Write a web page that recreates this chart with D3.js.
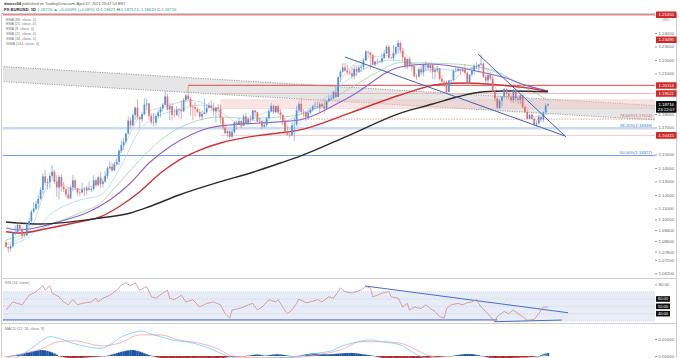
<!DOCTYPE html>
<html><head><meta charset="utf-8">
<script src="https://cdn.jsdelivr.net/npm/d3@7/dist/d3.min.js"></script>
<style>
html,body{margin:0;padding:0;background:#fff;}
svg{display:block;font-family:"Liberation Sans",Arial,sans-serif;}
</style></head><body>
<svg id="c" width="680" height="358"></svg>
<script>
// ---------- DATA (EUR/USD daily, 13 May 2020 -> 7 Apr 2021) ----------
const openP=[1.0849,1.0816,1.0804,1.0819,1.0919,1.0923,1.0978,1.0950,1.0901,1.0900,1.0979,1.1007,1.1077,
1.1099,1.1135,1.1172,1.1237,1.1338,1.1291,1.1295,1.1341,1.1373,1.1299,1.1256,1.1333,1.1262,1.1243,1.1204,1.1176,1.1256,1.1308,1.1251,1.1220,1.1219,1.1240,
1.1234,1.1250,1.1238,1.1245,1.1309,1.1273,1.1330,1.1282,1.1300,1.1342,1.1398,1.1410,1.1382,1.1427,1.1445,1.1527,1.1570,1.1595,1.1655,1.1751,1.1717,1.1791,1.1847,
1.1778,1.1761,1.1800,1.1870,1.1878,1.1786,1.1738,1.1738,1.1785,1.1812,1.1840,1.1869,1.1930,1.1833,1.1858,1.1794,1.1793,1.1833,1.1830,1.1820,1.1904,
1.1937,1.1912,1.1854,1.1852,1.1837,1.1814,1.1780,1.1800,1.1812,1.1846,1.1863,1.1846,1.1820,1.1849,1.1838,1.1771,1.1700,1.1658,1.1673,1.1631,1.1666,1.1737,
1.1721,1.1747,1.1715,1.1782,1.1734,1.1762,1.1758,1.1826,1.1813,1.1744,1.1747,1.1706,1.1718,1.1768,1.1819,1.1861,1.1814,1.1858,1.1811,1.1794,1.1746,1.1673,
1.1647,1.1641,1.1716,1.1721,1.1827,1.1875,1.1815,1.1813,1.1776,1.1809,1.1833,1.1855,1.1857,1.1850,1.1873,1.1857,1.1841,1.1896,1.1914,1.1917,1.1962,
1.1927,1.2072,1.2114,1.2145,1.2120,1.2107,1.2102,1.2080,1.2134,1.2113,1.2144,1.2151,1.2197,1.2262,1.2256,1.2237,1.2166,1.2188,1.2187,1.2188,1.2214,1.2249,1.2298,
1.2217,1.2214,1.2251,1.2297,1.2326,1.2270,1.2219,1.2153,1.2207,1.2155,1.2157,1.2081,1.2077,1.2131,1.2107,1.2167,1.2170,1.2141,1.2163,1.2112,1.2125,
1.2136,1.2060,1.2040,1.2037,1.1963,1.2049,1.2050,1.2119,1.2120,1.2133,1.2119,1.2129,1.2105,1.2037,1.2092,1.2120,1.2156,1.2153,1.2166,1.2174,
1.2075,1.2048,1.2090,1.2063,1.1967,1.1915,1.1846,1.1899,1.1929,1.1986,1.1952,1.1929,1.1902,1.1981,1.1915,1.1904,1.1939,1.1851,1.1813,1.1764,1.1794,1.1764,1.1721,
1.1730,1.1778,1.1760,1.1812,1.18621];
const highP=[1.0867,1.0818,1.0832,1.0926,1.0976,1.0995,1.1008,1.0961,1.0913,1.0996,1.1030,1.1092,1.1147,
1.1154,1.1198,1.1257,1.1361,1.1384,1.1323,1.1363,1.1422,1.1385,1.1347,1.1347,1.1356,1.1298,1.1256,1.1257,1.1270,1.1349,1.1320,1.1254,1.1249,1.1289,1.1260,
1.1268,1.1302,1.1264,1.1346,1.1325,1.1345,1.1371,1.1318,1.1375,1.1411,1.1452,1.1434,1.1443,1.1468,1.1540,1.1601,1.1626,1.1660,1.1781,1.1776,1.1805,1.1857,1.1908,
1.1780,1.1814,1.1916,1.1916,1.1884,1.1806,1.1807,1.1800,1.1831,1.1853,1.1883,1.1966,1.1951,1.1883,1.1883,1.1840,1.1858,1.1845,1.1900,1.1917,1.1945,
1.2011,1.1925,1.1869,1.1888,1.1849,1.1840,1.1825,1.1917,1.1872,1.1886,1.1901,1.1882,1.1851,1.1872,1.1871,1.1781,1.1718,1.1688,1.1682,1.1683,1.1745,1.1754,
1.1772,1.1753,1.1797,1.1809,1.1776,1.1789,1.1831,1.1829,1.1820,1.1772,1.1751,1.1733,1.1780,1.1841,1.1881,1.1868,1.1860,1.1871,1.1836,1.1797,1.1770,1.1707,
1.1670,1.1741,1.1770,1.1860,1.1891,1.1920,1.1836,1.1820,1.1829,1.1841,1.1869,1.1893,1.1893,1.1888,1.1891,1.1905,1.1898,1.1939,1.1941,1.1971,1.2003,
1.2077,1.2124,1.2176,1.2177,1.2167,1.2128,1.2147,1.2161,1.2161,1.2162,1.2167,1.2212,1.2273,1.2268,1.2258,1.2244,1.2194,1.2212,1.2195,1.2250,1.2276,1.2310,1.2310,
1.2225,1.2310,1.2302,1.2349,1.2338,1.2289,1.2230,1.2213,1.2222,1.2177,1.2163,1.2097,1.2145,1.2155,1.2172,1.2189,1.2174,1.2170,1.2170,1.2140,1.2156,
1.2140,1.2087,1.2050,1.2047,1.2051,1.2055,1.2128,1.2150,1.2150,1.2136,1.2145,1.2169,1.2112,1.2093,1.2145,1.2169,1.2180,1.2172,1.2243,1.2182,
1.2094,1.2093,1.2113,1.2086,1.1976,1.1933,1.1909,1.1930,1.1990,1.1990,1.1963,1.1951,1.1985,1.1989,1.1942,1.1942,1.1944,1.1859,1.1828,1.1799,1.1797,1.1770,1.1752,
1.1795,1.1787,1.1820,1.1878,1.18752];
const lowP=[1.0807,1.0775,1.0785,1.0810,1.0902,1.0918,1.0942,1.0871,1.0885,1.0895,1.0951,1.0988,1.1068,
1.1087,1.1100,1.1165,1.1207,1.1270,1.1241,1.1250,1.1320,1.1280,1.1186,1.1168,1.1224,1.1222,1.1183,1.1168,1.1170,1.1230,1.1240,1.1198,1.1190,1.1210,1.1192,
1.1200,1.1231,1.1222,1.1234,1.1260,1.1268,1.1253,1.1256,1.1290,1.1318,1.1392,1.1372,1.1380,1.1419,1.1422,1.1512,1.1535,1.1582,1.1650,1.1691,1.1710,1.1753,1.1762,
1.1696,1.1741,1.1790,1.1826,1.1754,1.1724,1.1711,1.1713,1.1765,1.1775,1.1820,1.1863,1.1827,1.1754,1.1753,1.1773,1.1783,1.1771,1.1763,1.1815,1.1890,
1.1903,1.1789,1.1753,1.1781,1.1807,1.1765,1.1753,1.1800,1.1802,1.1838,1.1822,1.1787,1.1737,1.1819,1.1729,1.1682,1.1651,1.1627,1.1612,1.1625,1.1654,1.1685,
1.1720,1.1696,1.1708,1.1733,1.1725,1.1734,1.1752,1.1785,1.1737,1.1730,1.1688,1.1698,1.1703,1.1762,1.1812,1.1803,1.1808,1.1803,1.1760,1.1716,1.1650,1.1640,
1.1622,1.1640,1.1603,1.1710,1.1805,1.1800,1.1780,1.1745,1.1758,1.1797,1.1818,1.1838,1.1846,1.1812,1.1845,1.1802,1.1830,1.1889,1.1900,1.1910,1.1922,
1.1924,1.2040,1.2106,1.2115,1.2087,1.2088,1.2060,1.2057,1.2080,1.2105,1.2111,1.2127,1.2191,1.2222,1.2130,1.2160,1.2155,1.2162,1.2182,1.2177,1.2208,1.2242,1.2211,
1.2210,1.2193,1.2234,1.2256,1.2248,1.2192,1.2133,1.2132,1.2148,1.2116,1.2071,1.2054,1.2070,1.2085,1.2080,1.2117,1.2117,1.2105,1.2059,1.2057,1.2110,
1.2047,1.2011,1.2002,1.1952,1.1960,1.2011,1.2045,1.2107,1.2112,1.2092,1.2111,1.2087,1.2023,1.2023,1.2079,1.2092,1.2133,1.2109,1.2160,1.2065,
1.2021,1.2024,1.2049,1.1963,1.1893,1.1836,1.1835,1.1854,1.1915,1.1910,1.1909,1.1884,1.1883,1.1890,1.1874,1.1874,1.1843,1.1810,1.1761,1.1762,1.1760,1.1712,1.1704,
1.1727,1.1740,1.1740,1.1805,1.18620];
const closeP=[1.0816,1.0804,1.0819,1.0919,1.0923,1.0978,1.0950,1.0901,1.0900,1.0979,1.1007,1.1077,1.1099,
1.1135,1.1172,1.1237,1.1338,1.1291,1.1295,1.1341,1.1373,1.1299,1.1256,1.1333,1.1262,1.1243,1.1204,1.1176,1.1256,1.1308,1.1251,1.1220,1.1219,1.1240,1.1234,
1.1250,1.1238,1.1245,1.1309,1.1273,1.1330,1.1282,1.1300,1.1342,1.1398,1.1410,1.1382,1.1427,1.1445,1.1527,1.1570,1.1595,1.1655,1.1751,1.1717,1.1791,1.1847,1.1778,
1.1761,1.1800,1.1870,1.1878,1.1786,1.1738,1.1738,1.1785,1.1812,1.1840,1.1869,1.1930,1.1833,1.1858,1.1794,1.1793,1.1833,1.1830,1.1820,1.1904,1.1937,
1.1912,1.1854,1.1852,1.1837,1.1814,1.1780,1.1800,1.1812,1.1846,1.1863,1.1846,1.1820,1.1849,1.1838,1.1771,1.1700,1.1658,1.1673,1.1631,1.1666,1.1737,1.1721,
1.1747,1.1715,1.1782,1.1734,1.1762,1.1758,1.1826,1.1813,1.1744,1.1747,1.1706,1.1718,1.1768,1.1819,1.1861,1.1814,1.1858,1.1811,1.1794,1.1746,1.1673,1.1647,
1.1641,1.1716,1.1721,1.1827,1.1875,1.1815,1.1813,1.1776,1.1809,1.1833,1.1855,1.1857,1.1850,1.1873,1.1857,1.1841,1.1896,1.1914,1.1917,1.1962,1.1927,
1.2072,1.2114,1.2145,1.2120,1.2107,1.2102,1.2080,1.2134,1.2113,1.2144,1.2151,1.2197,1.2262,1.2256,1.2237,1.2166,1.2188,1.2187,1.2188,1.2214,1.2249,1.2298,1.2217,
1.2214,1.2251,1.2297,1.2326,1.2270,1.2219,1.2153,1.2207,1.2155,1.2157,1.2081,1.2077,1.2131,1.2107,1.2167,1.2170,1.2141,1.2163,1.2112,1.2125,1.2136,
1.2060,1.2040,1.2037,1.1963,1.2049,1.2050,1.2119,1.2120,1.2133,1.2119,1.2129,1.2105,1.2037,1.2092,1.2120,1.2156,1.2153,1.2166,1.2174,1.2075,
1.2048,1.2090,1.2063,1.1967,1.1915,1.1846,1.1899,1.1929,1.1986,1.1952,1.1929,1.1902,1.1981,1.1915,1.1904,1.1939,1.1851,1.1813,1.1764,1.1794,1.1764,1.1721,1.1730,
1.1778,1.1760,1.1812,1.1862,1.18716];

// moving averages: [bar index, price]
const wma144=[[0,1.1000],[15,1.0985],[41,1.1030],[54,1.1067],[62,1.1113],[75,1.1200],[93,1.1299],[106,1.1363],[119,1.1437],[127,1.1484],[149,1.1644],[171,1.1807],[185,1.1874],[196,1.1928],[207,1.1965],[217,1.1970],[235,1.1965]];
const ema89=[[0,1.0928],[6,1.0919],[19,1.0956],[32,1.1002],[41,1.1039],[49,1.1113],[58,1.1224],[67,1.1363],[75,1.1459],[84,1.1533],[93,1.1585],[106,1.1632],[119,1.1661],[127,1.1681],[149,1.1807],[171,1.1941],[188,1.2020],[200,1.2030],[214,1.2015],[225,1.1995],[235,1.1968]];
const sma34=[[0,1.0956],[6,1.0941],[15,1.0965],[23,1.1002],[36,1.1076],[45,1.1163],[54,1.1289],[62,1.1437],[71,1.1558],[80,1.1644],[88,1.1696],[97,1.1719],[110,1.1733],[119,1.1743],[127,1.1756],[149,1.1926],[171,1.2148],[184,1.2170],[206,1.2111],[216,1.2070],[226,1.2010],[235,1.1970]];
const sma21=[[0,1.0867],[10,1.0919],[19,1.0978],[32,1.1067],[41,1.1141],[49,1.1289],[58,1.1459],[67,1.1607],[75,1.1696],[84,1.1756],[93,1.1778],[101,1.1770],[110,1.1770],[119,1.1778],[127,1.1793],[149,1.1990],[160,1.2100],[171,1.2180],[188,1.2175],[201,1.2160],[214,1.2100],[227,1.1978],[235,1.1904]];
const ema21=[[0,1.0830],[10,1.0889],[19,1.1052],[32,1.1163],[41,1.1200],[49,1.1385],[58,1.1681],[67,1.1793],[75,1.1830],[84,1.1867],[93,1.1815],[101,1.1733],[110,1.1756],[119,1.1741],[127,1.1793],[140,1.1941],[153,1.2111],[167,1.2200],[180,1.2163],[193,1.2126],[206,1.2141],[219,1.2052],[227,1.1904],[235,1.1815]];
const ema8=[[0,1.0840],[10,1.0930],[20,1.1310],[30,1.1240],[40,1.1290],[50,1.1520],[58,1.1780],[70,1.1860],[80,1.1900],[90,1.1840],[98,1.1680],[108,1.1780],[118,1.1830],[124,1.1670],[130,1.1800],[140,1.1890],[147,1.2100],[158,1.2220],[168,1.2240],[172,1.2260],[178,1.2120],[186,1.2130],[191,1.2010],[198,1.2110],[206,1.2160],[211,1.2050],[215,1.1900],[222,1.1930],[229,1.1780],[235,1.1800]];

// oscillators: [bar index, value]
const rsi14=[[0,45],[3,56],[5,54],[7,52],[10,65],[13,70],[16,78],[17,72],[19,78],[20,68],[23,63],[25,56],[27,52],[29,59],[31,52],[33,54],[35,55],[37,56],[39,61],[40,56],[42,61],[45,65],[48,72],[50,79],[52,82],[54,78],[56,82],[58,72],[61,77],[63,63],[65,61],[68,68],[70,72],[71,61],[73,59],[76,65],[78,56],[81,59],[84,49],[87,54],[90,56],[93,52],[95,40],[97,34],[98,45],[101,47],[103,49],[105,52],[107,54],[109,45],[111,49],[114,59],[117,56],[118,59],[120,49],[122,40],[124,45],[126,54],[127,60],[130,55],[132,56],[135,59],[137,56],[140,63],[142,61],[144,70],[145,75],[147,70],[150,68],[152,70],[154,72],[156,77],[158,75],[159,63],[161,65],[163,68],[166,70],[167,63],[170,61],[172,49],[174,54],[175,45],[177,49],[180,47],[182,52],[184,47],[186,43],[188,36],[190,34],[191,47],[193,52],[196,54],[198,52],[200,55],[202,56],[204,59],[206,49],[208,43],[210,36],[212,29],[213,36],[216,43],[218,40],[220,45],[222,40],[224,36],[226,31],[229,32],[231,40],[233,49],[235,49]];
const macdLine=[[0,-0.0020],[6,0.0000],[10,0.0035],[15,0.0084],[19,0.0114],[23,0.0104],[29,0.0075],[35,0.0055],[41,0.0045],[45,0.0065],[49,0.0104],[55,0.0137],[59,0.0147],[62,0.0133],[67,0.0114],[72,0.0094],[78,0.0084],[84,0.0065],[90,0.0035],[96,0.0000],[105,-0.0015],[120,-0.0010],[135,0.0016],[142,0.0035],[145,0.0055],[150,0.0075],[158,0.0094],[163,0.0084],[171,0.0065],[176,0.0025],[181,-0.0008],[195,-0.0030],[210,-0.0025],[225,-0.0030],[232,0.0000],[235,0.0006]];
const signalLine=[[0,-0.0015],[2,-0.0005],[15,0.0040],[23,0.0085],[30,0.0090],[41,0.0060],[49,0.0075],[58,0.0124],[67,0.0124],[75,0.0094],[84,0.0075],[93,0.0035],[98,0.0000],[110,-0.0010],[125,-0.0008],[139,0.0016],[145,0.0035],[154,0.0084],[162,0.0084],[171,0.0075],[178,0.0035],[184,0.0000],[200,-0.0025],[215,-0.0020],[230,-0.0030],[235,-0.0012]];
// histogram, in units of 0.0001
const macdHist=[-2,-1,
1,3,5,8,11,14,17,20,23,26,29,31,33,35,35,33,30,26,21,15,8,
-1,-4,-7,-10,-13,-15,-16,-16,-15,-14,-12,-10,-9,-8,-7,-6,-5,-4,-3,-2,-1,
2,5,9,13,17,21,25,28,31,33,35,35,33,30,26,21,16,11,6,2,
-3,-6,-9,-12,-14,-16,-17,-18,-18,-18,-17,-16,-15,-14,-14,-13,-13,-12,-12,-11,-11,-11,-12,-13,-14,-15,-16,-16,-15,-14,-12,-10,-8,-7,-6,-5,-4,-3,-2,-2,-1,
2,4,6,8,9,8,5,2,3,5,7,9,10,10,9,7,5,3,1,-1,-2,-1,
1,4,7,10,12,14,15,15,14,13,12,11,10,10,11,12,13,14,15,16,17,18,18,18,17,16,14,12,10,8,6,4,2,
-2,-5,-8,-11,-14,-17,-19,-21,-22,-23,-23,-22,-21,-20,-19,-18,-17,-16,-15,-14,-13,-12,-11,-10,-9,-8,-7,-6,-5,-4,-3,-2,-1,-1,
2,4,6,8,10,11,12,12,11,9,7,4,1,
-2,-5,-8,-11,-13,-15,-16,-17,-17,-16,-15,-14,-13,-12,-11,-10,-9,-9,-9,-8,-7,-6,-5,-3,-1,
5,10,14,17];

// axis ticks
const priceTicks=[1.24,1.23,1.22,1.21,1.18,1.17,1.15,1.14,1.13,1.12,1.11,1.102,1.094,1.086,1.078,1.072,1.062];
const rsiTicks=[80];
const macdTicks=[0.01,0];
// horizontal levels
const levelPrices=[1.2535,1.20114,1.19521,1.16415];
const levelStart=[-3,79,93,93];
const zonePrices=[1.1840,1.1905];
const fibNames=['78.60%','38.20%','50.00%'];
const fibPrices=[1.17624,1.16949,1.14927];
const fibStart=[125,-3,-3];
// drawn trend lines: [bar index, price]
const channelTop=[[-3,1.2153],[282,1.1862]];
const channelBottom=[[-3,1.2042],[282,1.1756]];
const wedgeLower=[[147,1.2222],[242.4,1.1637]];
const wedgeUpper=[[204.7,1.2244],[242.8,1.1630]];
const rsiDown=[[155.7,77.7],[243.7,41.3]];
const rsiFloor=[[-3,31.5],[213,31.5]];
const rsiFloor2=[[211.6,29],[241,31.3]];
const rsiLevels=[60,50,40];
const legendItems=['EMA (89, close, 0)','EMA (21, close, 0)','EMA (8, close, 0)','SMA (21, close, 0)','SMA (34, close, 0)','WMA (144, close, 0)'];

// ---------- DRAWING ----------
const svg=d3.select('#c');
const L=3,R=655;
const x=d3.scaleLinear().domain([0,235]).range([6,548]);
const y=d3.scaleLinear().domain([1.13,1.24]).range([181.5,33]);
const yR=d3.scaleLinear().domain([30,80]).range([321,284.3]);
const yM=d3.scaleLinear().domain([0,0.01]).range([356,339]);
const f5=d3.format('.5f');

const defs=svg.append('defs');
[['cm',14,278],['cr',278,323],['cmacd',323,358]].forEach(([id,t,b])=>{
  defs.append('clipPath').attr('id',id).append('rect').attr('x',L).attr('y',t).attr('width',R-L).attr('height',b-t);
});

// frame
svg.append('rect').attr('x',1.5).attr('y',13.5).attr('width',675).attr('height',350).attr('fill','none').attr('stroke','#cfcfcf');
svg.append('line').attr('x1',1.5).attr('x2',676.5).attr('y1',278.5).attr('y2',278.5).attr('stroke','#cfcfcf');
svg.append('line').attr('x1',1.5).attr('x2',676.5).attr('y1',323.5).attr('y2',323.5).attr('stroke','#cfcfcf');

const gm=svg.append('g').attr('clip-path','url(#cm)');

// channel
const chArea=d3.area().x(d=>x(d[0])).y0((d,i)=>y(channelBottom[i][1])).y1(d=>y(d[1]));
gm.append('path').datum(channelTop).attr('d',chArea).attr('fill','#e2e2e2').attr('opacity',0.85);
const tl=d3.line().x(d=>x(d[0])).y(d=>y(d[1]));
[channelTop,channelBottom].forEach(c=>gm.append('path').datum(c).attr('d',tl).attr('fill','none').attr('stroke','#888').attr('stroke-width',0.8).attr('stroke-dasharray','1.2,1.2'));

// zone
gm.append('rect').attr('x',x(levelStart[2])).attr('width',R-x(levelStart[2])).attr('y',y(zonePrices[1])).attr('height',y(zonePrices[0])-y(zonePrices[1])).attr('fill','#f4c6c6').attr('opacity',0.45);
zonePrices.forEach(p=>gm.append('line').attr('x1',x(levelStart[2])).attr('x2',R).attr('y1',y(p)).attr('y2',y(p)).attr('stroke','#eaa').attr('stroke-width',0.6).attr('stroke-dasharray','1,1'));

// fib levels
const fibStyle=[{c:'#e08a8a',w:0.8,d:'1.5,1.2'},{c:'#c9daf2',w:2.6,d:null},{c:'#7c9ee2',w:1,d:null}];
const fibText=['#d46a6a','#4a72c4','#4a72c4'];
fibPrices.forEach((p,i)=>{
  const s=fibStyle[i];
  const ln=gm.append('line').attr('x1',x(fibStart[i])).attr('x2',R).attr('y1',y(p)).attr('y2',y(p)).attr('stroke',s.c).attr('stroke-width',s.w);
  if(s.d) ln.attr('stroke-dasharray',s.d);
  gm.append('text').attr('x',R-3).attr('y',y(p)-1.6).attr('text-anchor','end').attr('font-size',4.2).attr('fill',fibText[i]).text(fibNames[i]+'('+f5(p)+')');
});

// horizontal levels
const lvStyle=[{c:'#e28a8a',w:1.4},{c:'#e06a6a',w:1.3},{c:'#f0b0b0',w:0.9},{c:'#f2c4c4',w:0.9}];
levelPrices.forEach((p,i)=>{
  gm.append('line').attr('x1',x(levelStart[i])).attr('x2',R).attr('y1',y(p)).attr('y2',y(p)).attr('stroke',lvStyle[i].c).attr('stroke-width',lvStyle[i].w);
});

// moving averages
const mal=d3.line().x(d=>x(d[0])).y(d=>y(d[1])).curve(d3.curveMonotoneX);
const maStyle=[[ema8,'#cfcfcf',0.8],[ema21,'#a9dcef',0.8],[sma21,'#9fd0a8',0.8],[sma34,'#8a63cc',1.1],[ema89,'#cc3333',1.4],[wma144,'#2b2b2b',1.4]];
maStyle.forEach(([d,c,w])=>gm.append('path').datum(d).attr('d',mal).attr('fill','none').attr('stroke',c).attr('stroke-width',w));

// candles
const bull='#4f93dc',bear='#e46e6e';
const idx=d3.range(closeP.length);
gm.selectAll('.wk').data(idx).join('line')
  .attr('x1',i=>x(i)).attr('x2',i=>x(i)).attr('y1',i=>y(highP[i])).attr('y2',i=>y(lowP[i]))
  .attr('stroke',i=>closeP[i]>=openP[i]?bull:bear).attr('stroke-width',0.6);
gm.selectAll('.bd').data(idx).join('rect')
  .attr('x',i=>x(i)-0.85).attr('width',1.7)
  .attr('y',i=>y(Math.max(openP[i],closeP[i])))
  .attr('height',i=>Math.max(0.5,Math.abs(y(openP[i])-y(closeP[i]))))
  .attr('fill',i=>closeP[i]>=openP[i]?bull:bear);

// wedge lines
[wedgeLower,wedgeUpper].forEach(w=>gm.append('path').datum(w).attr('d',tl).attr('fill','none').attr('stroke','#3d63b8').attr('stroke-width',1));

// price axis
const ax=svg.append('g').attr('transform',`translate(${R},0)`).call(d3.axisRight(y).tickValues(priceTicks).tickFormat(f5).tickSize(2).tickPadding(1.5));
ax.select('.domain').remove();
ax.selectAll('text').attr('font-size',4.3).attr('fill','#666');
ax.selectAll('line').attr('stroke','#999');

function tag(yy,lines,bg){
  const h=lines.length*5+1.6;
  svg.append('rect').attr('x',R+1).attr('y',yy-3.3).attr('width',20.5).attr('height',h).attr('fill',bg).attr('rx',0.6);
  lines.forEach((t,k)=>svg.append('text').attr('x',R+11.2).attr('y',yy+1.5+k*5).attr('text-anchor','middle').attr('font-size',4.3).attr('fill','#fff').text(t));
}
levelPrices.forEach(p=>tag(y(p),[f5(p)],'#cf2a2a'));
tag(y(1.23495),[f5(1.23495)],'#cf2a2a');
tag(y(closeP[235]),[f5(closeP[235]),'23:12:07'],'#111');
svg.append('text').attr('x',R+11).attr('y',21).attr('text-anchor','middle').attr('font-size',3.6).attr('fill','#888').text('USD');

// header
svg.append('text').attr('x',4).attr('y',5.2).attr('font-size',3.9).attr('fill','#555')
  .html('<tspan font-weight="bold" fill="#333">dmoss94</tspan> published on TradingView.com, April 07, 2021 23:47:53 BST');
const h2=svg.append('text').attr('x',4).attr('y',11).attr('font-size',4.2).attr('fill','#333');
const tc='#1f9e8f';
[['FX:EURUSD, 1D ','#222','bold'],['1.18716 ',tc],['\u25B2 ',tc],['+0.00095 (+0.08%) ',tc],['O:','#333'],['1.18621 ',tc],['H:','#333'],['1.18752 ',tc],['L:','#333'],['1.18620 ',tc],['C:','#333'],['1.18716',tc]]
  .forEach(([t,c,w])=>h2.append('tspan').attr('fill',c).attr('font-weight',w||'normal').text(t));

// legend
legendItems.forEach((t,i)=>svg.append('text').attr('x',6).attr('y',20.5+i*4.85).attr('font-size',3.7).attr('fill','#777').text(t));

// ---------- RSI ----------
const gr=svg.append('g').attr('clip-path','url(#cr)');
gr.append('rect').attr('x',L).attr('width',R-L).attr('y',yR(70)).attr('height',yR(30)-yR(70)).attr('fill','#e7ecf7');
[70,60,50,40,30].forEach(v=>gr.append('line').attr('x1',L).attr('x2',R).attr('y1',yR(v)).attr('y2',yR(v)).attr('stroke','#b8c0d4').attr('stroke-width',0.5).attr('stroke-dasharray','1,1'));
const rl=d3.line().x(d=>x(d[0])).y(d=>yR(d[1]));
[rsiFloor,rsiFloor2,rsiDown].forEach(d=>gr.append('path').datum(d).attr('d',rl).attr('fill','none').attr('stroke','#4a6cc0').attr('stroke-width',1));
gr.append('path').datum(rsi14).attr('d',rl).attr('fill','none').attr('stroke','#c98080').attr('stroke-width',0.7);
svg.append('text').attr('x',5).attr('y',284).attr('font-size',3.7).attr('fill','#777').text('RSI (14, close)');
const ar=svg.append('g').attr('transform',`translate(${R},0)`).call(d3.axisRight(yR).tickValues(rsiTicks).tickFormat(d3.format('.2f')).tickSize(2).tickPadding(1.5));
ar.select('.domain').remove();ar.selectAll('text').attr('font-size',4.3).attr('fill','#666');ar.selectAll('line').attr('stroke','#999');
rsiLevels.forEach(v=>{
  svg.append('rect').attr('x',R+1).attr('y',yR(v)-2.8).attr('width',14).attr('height',5.6).attr('fill','#111');
  svg.append('text').attr('x',R+8).attr('y',yR(v)+1.5).attr('text-anchor','middle').attr('font-size',4.1).attr('fill','#fff').text(d3.format('.2f')(v));
});

// ---------- MACD ----------
const gmc=svg.append('g').attr('clip-path','url(#cmacd)');
gmc.selectAll('.hb').data(macdHist).join('rect')
  .attr('x',(d,i)=>x(i)-1.2).attr('width',2.4)
  .attr('y',d=>d>=0?yM(d/10000):yM(0))
  .attr('height',d=>Math.max(0.4,Math.abs(yM(d/10000)-yM(0))))
  .attr('fill',d=>d>=0?'#1d55a6':'#a82c2c');
const ml=d3.line().x(d=>x(d[0])).y(d=>yM(d[1])).curve(d3.curveMonotoneX);
gmc.append('path').datum(signalLine).attr('d',ml).attr('fill','none').attr('stroke','#f3a3a3').attr('stroke-width',0.8);
gmc.append('path').datum(macdLine).attr('d',ml).attr('fill','none').attr('stroke','#78c8f2').attr('stroke-width',0.8);
svg.append('text').attr('x',5).attr('y',330).attr('font-size',3.7).attr('fill','#777').text('MACD (12, 26, close, 9)');
const am=svg.append('g').attr('transform',`translate(${R},0)`).call(d3.axisRight(yM).tickValues(macdTicks).tickFormat(f5).tickSize(2).tickPadding(1.5));
am.select('.domain').remove();am.selectAll('text').attr('font-size',4.3).attr('fill','#666');am.selectAll('line').attr('stroke','#999');
</script>
</body></html>
